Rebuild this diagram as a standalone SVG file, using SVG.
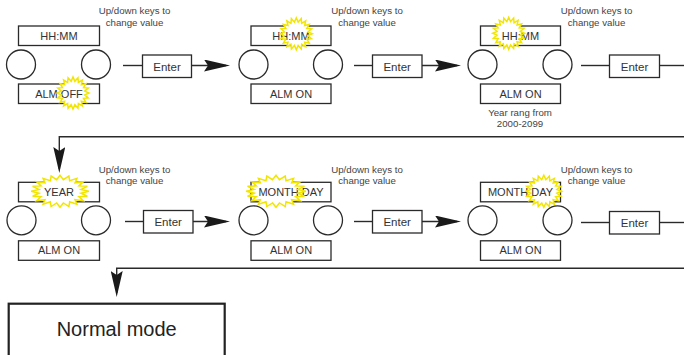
<svg xmlns="http://www.w3.org/2000/svg" xmlns:xlink="http://www.w3.org/1999/xlink" width="684" height="355" viewBox="0 0 684 355">
<style>
.box{fill:#fff;stroke:#2a2a2a;stroke-width:1.3}
.btn{fill:#fff;stroke:#2a2a2a;stroke-width:1.3}
.lbl{font-family:"Liberation Sans",Arial,sans-serif;font-size:11px;fill:#333;text-anchor:middle}
.ent{font-family:"Liberation Sans",Arial,sans-serif;font-size:11.5px;fill:#333;text-anchor:middle}
.note{font-family:"Liberation Sans",Arial,sans-serif;font-size:9.7px;fill:#444;text-anchor:middle}
.big{font-family:"Liberation Sans",Arial,sans-serif;font-size:20px;fill:#222;text-anchor:middle}
.ln{fill:none;stroke:#2a2a2a;stroke-width:1.4}
.sfill{fill:#fff;stroke:none}
.sline{fill:none;stroke:#f2e600;stroke-width:1.5}
</style>
<defs>
<marker id="arr" markerUnits="userSpaceOnUse" markerWidth="26" markerHeight="12" refX="22" refY="6" orient="auto">
<path d="M0,0 L26,6 L0,12 L4,6 Z" fill="#1a1a1a"/>
</marker>
<path id="star" vector-effect="non-scaling-stroke" d="M16,0 L11.65,1.85 L15.22,4.94 L10.51,5.36 L12.94,9.4 L8.34,8.34 L9.4,12.94 L5.36,10.51 L4.94,15.22 L1.85,11.65 L0,16 L-1.85,11.65 L-4.94,15.22 L-5.36,10.51 L-9.4,12.94 L-8.34,8.34 L-12.94,9.4 L-10.51,5.36 L-15.22,4.94 L-11.65,1.85 L-16,0 L-11.65,-1.85 L-15.22,-4.94 L-10.51,-5.36 L-12.94,-9.4 L-8.34,-8.34 L-9.4,-12.94 L-5.36,-10.51 L-4.94,-15.22 L-1.85,-11.65 L0,-16 L1.85,-11.65 L4.94,-15.22 L5.36,-10.51 L9.4,-12.94 L8.34,-8.34 L12.94,-9.4 L10.51,-5.36 L15.22,-4.94 L11.65,-1.85 Z"/>
</defs>

<g id="connectors">
<line class="ln" x1="123" y1="65.5" x2="142.5" y2="65.5"/>
<line class="ln" x1="191.5" y1="65.5" x2="226" y2="65.5" marker-end="url(#arr)"/>
<line class="ln" x1="354" y1="65.5" x2="372.5" y2="65.5"/>
<line class="ln" x1="422" y1="65.5" x2="457" y2="65.5" marker-end="url(#arr)"/>
<line class="ln" x1="581" y1="65.5" x2="609.5" y2="65.5"/>
<line class="ln" x1="659.5" y1="65.5" x2="684" y2="65.5"/>
<polyline class="ln" points="684,136.7 59.3,136.7 59.3,169" marker-end="url(#arr)"/>
<line class="ln" x1="125" y1="221.5" x2="143.5" y2="221.5"/>
<line class="ln" x1="193" y1="221.5" x2="226" y2="221.5" marker-end="url(#arr)"/>
<line class="ln" x1="354" y1="221.5" x2="372.5" y2="221.5"/>
<line class="ln" x1="422" y1="221.5" x2="457" y2="221.5" marker-end="url(#arr)"/>
<line class="ln" x1="581" y1="222.5" x2="609.5" y2="222.5"/>
<line class="ln" x1="659.5" y1="222.5" x2="684" y2="222.5"/>
<polyline class="ln" points="684,268.3 116.7,268.3 116.7,293" marker-end="url(#arr)"/>
</g>

<g id="enter-1"><rect class="box" x="142.5" y="55" width="49" height="22.5"/><text class="ent" x="167" y="70.5">Enter</text></g>
<g id="enter-2"><rect class="box" x="372.5" y="55" width="49.5" height="22.5"/><text class="ent" x="397.2" y="70.5">Enter</text></g>
<g id="enter-3"><rect class="box" x="609.5" y="55" width="50" height="22.5"/><text class="ent" x="634.5" y="70.5">Enter</text></g>
<g id="enter-4"><rect class="box" x="143.5" y="210.5" width="49.5" height="22.5"/><text class="ent" x="168.2" y="226">Enter</text></g>
<g id="enter-5"><rect class="box" x="372.5" y="210.5" width="49.5" height="22.5"/><text class="ent" x="397.2" y="226">Enter</text></g>
<g id="enter-6"><rect class="box" x="609.5" y="211.5" width="50" height="22.5"/><text class="ent" x="634.5" y="227">Enter</text></g>

<g id="step-alarm-off">
<text class="note" x="134.5" y="14">Up/down keys to</text>
<text class="note" x="134.5" y="25.5">change value</text>
<rect class="box" x="18.5" y="26" width="81" height="19.5"/>
<text class="lbl" x="59" y="39.5">HH:MM</text>
<circle class="btn" cx="21" cy="64.5" r="14.5"/>
<circle class="btn" cx="96" cy="64.5" r="14.5"/>
<rect class="box" x="18.5" y="84" width="81" height="19.5"/>
<use href="#star" xlink:href="#star" class="sfill" transform="translate(73,93)"/>
<text class="lbl" x="59" y="97.5">ALM OFF</text>
<use href="#star" xlink:href="#star" class="sline" transform="translate(73,93)"/>
</g>

<g id="step-hour-minute" transform="translate(232.5,0)">
<text class="note" x="134.5" y="14">Up/down keys to</text>
<text class="note" x="134.5" y="25.5">change value</text>
<rect class="box" x="18.5" y="26" width="80" height="19.5"/>
<use href="#star" xlink:href="#star" class="sfill" transform="translate(63.8,33.8)"/>
<text class="lbl" x="58.5" y="39.5">HH:MM</text>
<use href="#star" xlink:href="#star" class="sline" transform="translate(63.8,33.8)"/>
<circle class="btn" cx="21" cy="64.5" r="14.5"/>
<circle class="btn" cx="95.5" cy="64.5" r="14.5"/>
<rect class="box" x="18.5" y="84" width="80" height="19.5"/>
<text class="lbl" x="58.5" y="97.5">ALM ON</text>
</g>

<g id="step-hour" transform="translate(462,0)">
<text class="note" x="134.5" y="14">Up/down keys to</text>
<text class="note" x="134.5" y="25.5">change value</text>
<rect class="box" x="18.5" y="26" width="80" height="19.5"/>
<use href="#star" xlink:href="#star" class="sfill" transform="translate(46.7,33.3)"/>
<text class="lbl" x="58.5" y="39.5">HH:MM</text>
<use href="#star" xlink:href="#star" class="sline" transform="translate(46.7,33.3)"/>
<circle class="btn" cx="20.5" cy="64.5" r="14.5"/>
<circle class="btn" cx="95.5" cy="64.5" r="14.5"/>
<rect class="box" x="18.5" y="84" width="80" height="19.5"/>
<text class="lbl" x="58.5" y="97.5">ALM ON</text>
<text class="note" x="58" y="115.5">Year rang from</text>
<text class="note" x="58" y="127">2000-2099</text>
</g>

<g id="step-year" transform="translate(0,156.3)">
<text class="note" x="134.5" y="16.5">Up/down keys to</text>
<text class="note" x="134.5" y="28">change value</text>
<rect class="box" x="18.5" y="26" width="81" height="19.5"/>
<use href="#star" xlink:href="#star" class="sfill" transform="translate(60,35) scale(1.8,1)"/>
<text class="lbl" x="59" y="39.5">YEAR</text>
<use href="#star" xlink:href="#star" class="sline" transform="translate(60,35) scale(1.8,1)"/>
<circle class="btn" cx="21.5" cy="64" r="14.5"/>
<circle class="btn" cx="96" cy="64" r="14.5"/>
<rect class="box" x="18.5" y="84.5" width="81" height="19.5"/>
<text class="lbl" x="59" y="98">ALM ON</text>
</g>

<g id="step-month" transform="translate(232.5,156.3)">
<text class="note" x="134.5" y="16.5">Up/down keys to</text>
<text class="note" x="134.5" y="28">change value</text>
<rect class="box" x="18.5" y="26" width="80" height="19.5"/>
<use href="#star" xlink:href="#star" class="sfill" transform="translate(43.5,35) scale(1.87,1)"/>
<text class="lbl" x="58.5" y="39.5">MONTH DAY</text>
<use href="#star" xlink:href="#star" class="sline" transform="translate(43.5,35) scale(1.87,1)"/>
<circle class="btn" cx="21" cy="64" r="14.5"/>
<circle class="btn" cx="95.5" cy="64" r="14.5"/>
<rect class="box" x="18.5" y="84.5" width="80" height="19.5"/>
<text class="lbl" x="58.5" y="98">ALM ON</text>
</g>

<g id="step-day" transform="translate(462,156.3)">
<text class="note" x="134.5" y="16.5">Up/down keys to</text>
<text class="note" x="134.5" y="28">change value</text>
<rect class="box" x="18.5" y="26" width="80" height="19.5"/>
<use href="#star" xlink:href="#star" class="sfill" transform="translate(81.8,35) scale(1.12,1)"/>
<text class="lbl" x="58.5" y="39.5">MONTH DAY</text>
<use href="#star" xlink:href="#star" class="sline" transform="translate(81.8,35) scale(1.12,1)"/>
<circle class="btn" cx="20.5" cy="64" r="14.5"/>
<circle class="btn" cx="95.5" cy="64" r="14.5"/>
<rect class="box" x="18.5" y="84.5" width="80" height="19.5"/>
<text class="lbl" x="58.5" y="98">ALM ON</text>
</g>

<g id="normal-mode">
<rect x="8.7" y="303.7" width="216" height="60" fill="#fff" stroke="#222" stroke-width="2.2"/>
<text class="big" x="116.7" y="336">Normal mode</text>
</g>
</svg>
